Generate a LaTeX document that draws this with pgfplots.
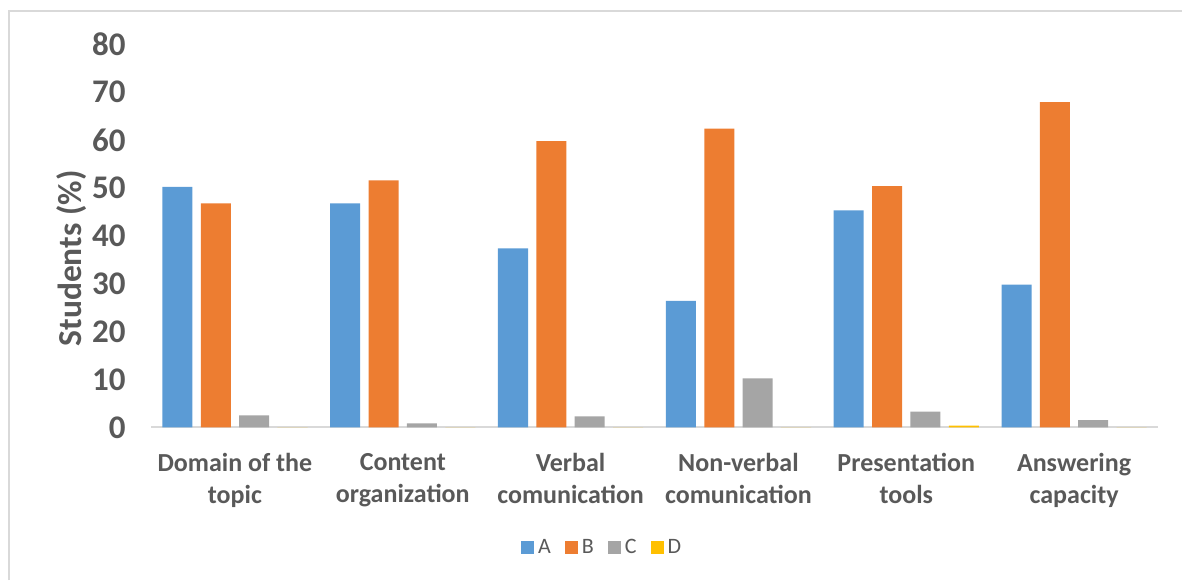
\documentclass[border=0pt]{standalone}
\usepackage{pgfplots}
\pgfplotsset{compat=1.18}
\usepackage{fontspec}
\setmainfont{Carlito}
\definecolor{cA}{HTML}{5B9BD5}
\definecolor{cB}{HTML}{ED7D31}
\definecolor{cC}{HTML}{A5A5A5}
\definecolor{cD}{HTML}{FFC000}
\definecolor{txt}{HTML}{595959}
\definecolor{axgray}{HTML}{D9D9D9}
\begin{document}
\begin{tikzpicture}
\path[use as bounding box] (0,0) rectangle (591pt,290pt);
\draw[axgray, line width=1pt] (4.5pt,0pt) -- (4.5pt,284.5pt) -- (591pt,284.5pt);
\begin{axis}[
  at={(75.5pt,76.35pt)}, anchor=south west,
  scale only axis, width=503.5pt, height=191.5pt,
  ybar, bar width=0.179,
  xmin=-0.5, xmax=5.5, ymin=0, ymax=80,
  ytick={0,10,...,80},
  xtick={0,1,2,3,4,5},
  xticklabels={Domain of the\\topic, Content\\organization, Verbal\\comunication, Non-verbal\\comunication, Presentation\\tools, Answering\\capacity},
  axis x line*=bottom, axis y line*=left,
  x axis line style={draw=axgray, line width=1pt},
  y axis line style={draw=none},
  major tick length=0pt,
  tick style={draw=none},
  /pgf/number format/assume math mode=true,
  yticklabel style={font=\fontsize{16.5}{20}\selectfont\bfseries, text=txt, anchor=east, inner sep=0pt, xshift=-12.5pt},
  xticklabel style={font=\fontsize{13}{15.75}\selectfont\bfseries, text=txt, align=center, anchor=north, inner sep=0pt, yshift=-13pt},
  ylabel={Students (\%)},
  every axis y label/.style={at={(axis description cs:-0.0792,0.441)}, rotate=90, anchor=center,
    font=\fontsize{16.75}{20}\selectfont\bfseries, text=txt},
  legend style={at={(axis description cs:0.449,-0.315)}, anchor=center, legend columns=4, draw=none, fill=none,
    font=\fontsize{11}{13}\selectfont, text=txt,
    /tikz/every even column/.append style={column sep=5pt},
    nodes={inner sep=2pt}},
  legend image code/.code={\fill[#1] (0pt,-3.25pt) rectangle (6.5pt,3.25pt);},
]
\addplot[fill=cA, draw=none, bar shift=-0.343] coordinates {(0,50.2) (1,46.8) (2,37.4) (3,26.4) (4,45.3) (5,29.8)};
\addplot[fill=cB, draw=none, bar shift=-0.114] coordinates {(0,46.8) (1,51.6) (2,59.8) (3,62.4) (4,50.4) (5,67.9)};
\addplot[fill=cC, draw=none, bar shift=0.114] coordinates {(0,2.5) (1,0.8) (2,2.3) (3,10.2) (4,3.3) (5,1.5)};
\addplot[fill=cD, draw=none, bar shift=0.343] coordinates {(0,0) (1,0) (2,0) (3,0) (4,0.35) (5,0)};
\legend{A,B,C,D}
\end{axis}
\end{tikzpicture}
\end{document}
